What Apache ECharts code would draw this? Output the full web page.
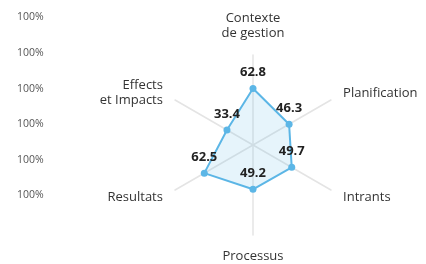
<!DOCTYPE html>
<html>
<head>
<meta charset="utf-8">
<script src="https://cdn.jsdelivr.net/npm/echarts@6/dist/echarts.min.js"></script>
<style>
  html, body { margin: 0; padding: 0; background: #fff; }
  #chart { width: 426px; height: 264px; }
</style>
</head>
<body>
<div id="chart"></div>
<script>
// indicators go counter-clockwise from the top
const indicators = ['Contexte\nde gestion', 'Effects\net Impacts', 'Resultats', 'Processus', 'Intrants', 'Planification']
const scores = [62.8, 33.4, 62.5, 49.2, 49.7, 46.3]
const sideLabels = ['100%', '100%', '100%', '100%', '100%', '100%']

const chart = echarts.init(document.getElementById('chart'))

const option = {
  animation: false,
  textStyle: { fontFamily: '"Open Sans", sans-serif' },
  graphic: sideLabels.map((t, i) => ({
    type: 'text',
    left: 17,
    top: 12 + i * 35.6,
    style: { text: t, fill: '#555', font: '10.5px "Open Sans", sans-serif' }
  })),
  radar: {
    center: [253, 145],
    radius: 90,
    startAngle: 90,
    nameGap: 14,
    indicator: indicators.map(name => ({ name, max: 100 })),
    axisName: { color: '#333', fontSize: 13, lineHeight: 15, fontFamily: '"Open Sans", sans-serif' },
    axisLine: { lineStyle: { color: '#e4e4e4', width: 1.5 } },
    splitLine: { show: false },
    splitArea: { show: false },
    axisTick: { show: false },
    axisLabel: { show: false }
  },
  series: [{
    type: 'radar',
    symbol: 'circle',
    symbolSize: 7,
    lineStyle: { color: '#5cb6e6', width: 2 },
    itemStyle: { color: '#5cb6e6' },
    areaStyle: { color: 'rgba(92,182,230,0.22)' },
    label: {
      show: true,
      position: 'top',
      distance: 6,
      color: '#222',
      fontWeight: 'bold',
      fontSize: 13,
      fontFamily: '"Open Sans", sans-serif'
    },
    data: [{ value: scores }]
  }]
}

chart.setOption(option)
</script>
</body>
</html>
